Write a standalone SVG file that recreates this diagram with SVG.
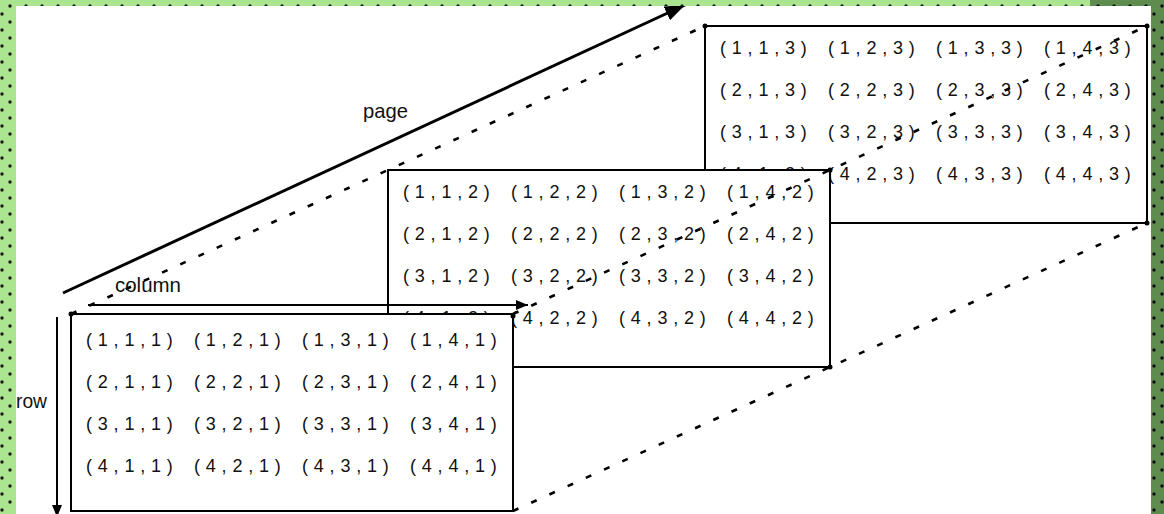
<svg xmlns="http://www.w3.org/2000/svg" width="1164" height="514" viewBox="0 0 1164 514">
<style>
.box{fill:#fff;stroke:#000;stroke-width:2}
.cell{font-family:"Liberation Sans",Arial,sans-serif;font-size:18px;letter-spacing:5.8px;fill:#111}
.lbl{font-family:"Liberation Sans",Arial,sans-serif;font-size:21px;fill:#111}
.dash{fill:none;stroke:#000;stroke-width:2.6;stroke-dasharray:6 14}
.arr{fill:none;stroke:#000}
.dot{fill:#000}
</style>
<defs>
<pattern id="lg" width="16" height="16" patternUnits="userSpaceOnUse">
<rect width="16" height="16" fill="#ace58f"/>
<circle cx="2" cy="14" r="1.7" fill="#1c1c1c"/>
<circle cx="10" cy="6" r="1.7" fill="#1c1c1c"/>
</pattern>
<pattern id="dg" width="16" height="16" patternUnits="userSpaceOnUse">
<rect width="16" height="16" fill="#5e8c4e"/>
<circle cx="2" cy="14" r="1.7" fill="#101010"/>
<circle cx="10" cy="6" r="1.7" fill="#101010"/>
</pattern>
<marker id="ahBig" markerUnits="userSpaceOnUse" markerWidth="22" markerHeight="16" refX="20" refY="7.5" orient="auto">
<path d="M0,0 L20,7.5 L0,15 Z" fill="#000"/>
</marker>
<marker id="ahSm" markerUnits="userSpaceOnUse" markerWidth="14" markerHeight="12" refX="12" refY="5" orient="auto">
<path d="M0,0 L12,5 L0,10 Z" fill="#000"/>
</marker>
</defs>
<rect width="1164" height="514" fill="#fff"/>

<g id="page3">
<rect class="box" x="705" y="26" width="442" height="197"/>
<text class="cell" x="720" y="54">(1,1,3)</text><text class="cell" x="828" y="54">(1,2,3)</text><text class="cell" x="936" y="54">(1,3,3)</text><text class="cell" x="1044" y="54">(1,4,3)</text>
<text class="cell" x="720" y="96">(2,1,3)</text><text class="cell" x="828" y="96">(2,2,3)</text><text class="cell" x="936" y="96">(2,3,3)</text><text class="cell" x="1044" y="96">(2,4,3)</text>
<text class="cell" x="720" y="138">(3,1,3)</text><text class="cell" x="828" y="138">(3,2,3)</text><text class="cell" x="936" y="138">(3,3,3)</text><text class="cell" x="1044" y="138">(3,4,3)</text>
<text class="cell" x="720" y="180">(4,1,3)</text><text class="cell" x="828" y="180">(4,2,3)</text><text class="cell" x="936" y="180">(4,3,3)</text><text class="cell" x="1044" y="180">(4,4,3)</text>
</g>

<g id="page2">
<rect class="box" x="388" y="170" width="442" height="197"/>
<text class="cell" x="403" y="198">(1,1,2)</text><text class="cell" x="511" y="198">(1,2,2)</text><text class="cell" x="619" y="198">(1,3,2)</text><text class="cell" x="727" y="198">(1,4,2)</text>
<text class="cell" x="403" y="240">(2,1,2)</text><text class="cell" x="511" y="240">(2,2,2)</text><text class="cell" x="619" y="240">(2,3,2)</text><text class="cell" x="727" y="240">(2,4,2)</text>
<text class="cell" x="403" y="282">(3,1,2)</text><text class="cell" x="511" y="282">(3,2,2)</text><text class="cell" x="619" y="282">(3,3,2)</text><text class="cell" x="727" y="282">(3,4,2)</text>
<text class="cell" x="403" y="324">(4,1,2)</text><text class="cell" x="511" y="324">(4,2,2)</text><text class="cell" x="619" y="324">(4,3,2)</text><text class="cell" x="727" y="324">(4,4,2)</text>
</g>

<g id="page1">
<rect class="box" x="71" y="314" width="442" height="197"/>
<text class="cell" x="86" y="346">(1,1,1)</text><text class="cell" x="194" y="346">(1,2,1)</text><text class="cell" x="302" y="346">(1,3,1)</text><text class="cell" x="410" y="346">(1,4,1)</text>
<text class="cell" x="86" y="388">(2,1,1)</text><text class="cell" x="194" y="388">(2,2,1)</text><text class="cell" x="302" y="388">(2,3,1)</text><text class="cell" x="410" y="388">(2,4,1)</text>
<text class="cell" x="86" y="430">(3,1,1)</text><text class="cell" x="194" y="430">(3,2,1)</text><text class="cell" x="302" y="430">(3,3,1)</text><text class="cell" x="410" y="430">(3,4,1)</text>
<text class="cell" x="86" y="472">(4,1,1)</text><text class="cell" x="194" y="472">(4,2,1)</text><text class="cell" x="302" y="472">(4,3,1)</text><text class="cell" x="410" y="472">(4,4,1)</text>
</g>

<g id="connectors">
<line class="dash" x1="71" y1="314" x2="705" y2="26"/>
<line class="dash" x1="513" y1="314" x2="1147" y2="26"/>
<line class="dash" x1="513" y1="511" x2="1147" y2="223"/>
<circle class="dot" cx="705" cy="26" r="2.5"/>
<circle class="dot" cx="1147" cy="26" r="2.5"/>
<circle class="dot" cx="1147" cy="223" r="2.5"/>
<circle class="dot" cx="830" cy="170" r="2.5"/>
<circle class="dot" cx="830" cy="367" r="2.5"/>
<circle class="dot" cx="71" cy="314" r="2.5"/>
<circle class="dot" cx="513" cy="316" r="2.5"/>
<line class="arr" x1="63" y1="293" x2="685" y2="5" stroke-width="3" marker-end="url(#ahBig)"/>
<line class="arr" x1="88" y1="305" x2="528" y2="305" stroke-width="2" marker-end="url(#ahSm)"/>
<line class="arr" x1="57" y1="317" x2="57" y2="517" stroke-width="2" marker-end="url(#ahSm)"/>
</g>

<g id="labels">
<text class="lbl" x="363" y="118" textLength="45" lengthAdjust="spacingAndGlyphs">page</text>
<text class="lbl" x="115" y="292" textLength="66" lengthAdjust="spacingAndGlyphs">column</text>
<text class="lbl" x="16" y="408" textLength="31" lengthAdjust="spacingAndGlyphs">row</text>
</g>

<g id="border">
<rect x="0" y="0" width="1164" height="6" fill="url(#lg)"/>
<rect x="1090" y="0" width="74" height="6" fill="url(#dg)"/>
<rect x="0" y="0" width="16" height="514" fill="url(#lg)"/>
<rect x="1151" y="0" width="13" height="514" fill="url(#dg)"/>
</g>
</svg>
